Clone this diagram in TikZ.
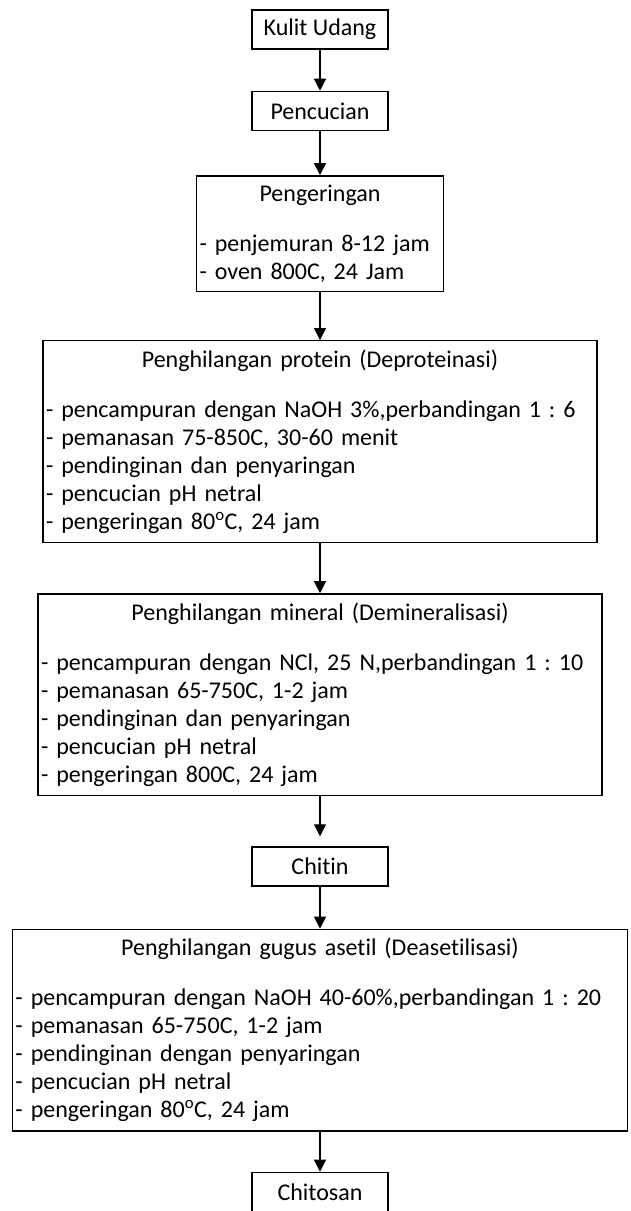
\documentclass[tikz,border=0pt]{standalone}
\usepackage{fontspec}
\setmainfont{Carlito}[Ligatures=CommonOff]
\usetikzlibrary{arrows.meta,positioning}
\tikzstyle{stage}=[draw,line width=1.4pt,minimum width=136pt,minimum height=39pt,inner sep=0pt,font=\fontsize{24}{28}\selectfont]
\tikzstyle{process}=[draw,line width=1.4pt,align=left,inner xsep=3pt,inner ysep=9pt,font=\fontsize{24}{28}\selectfont]
\tikzstyle{arrow}=[draw,line width=1.4pt,-{Triangle[length=12pt,width=12pt]}]
\newcommand{\steptitle}[1]{{\centering #1\par}\vspace{22pt}}

\begin{document}
\frenchspacing
\begin{tikzpicture}
    \useasboundingbox (0,0) rectangle (630pt,-1211pt);
    \node[stage] (kulit) at (320pt,-29.5pt) {Kulit Udang};
    \node[stage, below=41pt of kulit] (cuci) {Pencucian};
    \node[process, text width=241pt, below=44pt of cuci] (kering) {\steptitle{Pengeringan}- penjemuran 8-12 jam\\- oven 800C, 24 Jam};
    \node[process, text width=548pt, below=48pt of kering] (deprot) {\steptitle{Penghilangan protein (Deproteinasi)}- pencampuran dengan NaOH 3\%,perbandingan 1 : 6\\- pemanasan 75-850C, 30-60 menit\\- pendinginan dan penyaringan\\- pencucian pH netral\\- pengeringan 80\textsuperscript{o}C, 24 jam};
    \node[process, text width=558pt, below=50pt of deprot] (demin) {\steptitle{Penghilangan mineral (Demineralisasi)}- pencampuran dengan NCl, 25 N,perbandingan 1 : 10\\- pemanasan 65-750C, 1-2 jam\\- pendinginan dan penyaringan\\- pencucian pH netral\\- pengeringan 800C, 24 jam};
    \node[stage, below=50pt of demin] (chitin) {Chitin};
    \node[process, text width=609pt, below=42pt of chitin] (deaset) {\steptitle{Penghilangan gugus asetil (Deasetilisasi)}- pencampuran dengan NaOH 40-60\%,perbandingan 1 : 20\\- pemanasan 65-750C, 1-2 jam\\- pendinginan dengan penyaringan\\- pencucian pH netral\\- pengeringan 80\textsuperscript{o}C, 24 jam};
    \node[stage, below=40pt of deaset] (chitosan) {Chitosan};
    \foreach \source/\dest in {kulit/cuci, cuci/kering, kering/deprot, deprot/demin, chitin/deaset, deaset/chitosan}
        \path[arrow] (\source) -- (\dest);
    \path[arrow, shorten >=10pt] (demin) -- (chitin);
\end{tikzpicture}
\end{document}
